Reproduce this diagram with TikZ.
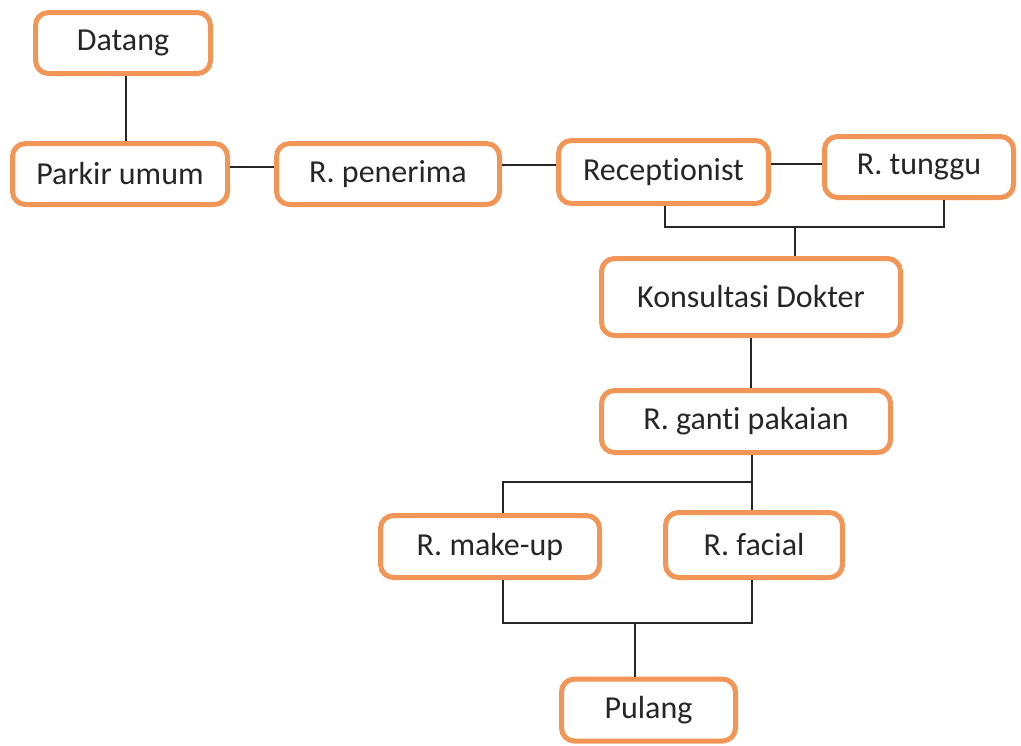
\documentclass[tikz,border=0pt]{standalone}
\usepackage{fontspec}
\setmainfont[Ligatures=NoCommon]{Carlito}
\begin{document}
\begin{tikzpicture}[x=1pt,y=-1pt,
  room/.style={draw=boxorange, line width=5pt, rounded corners=13pt, fill=white,
    inner sep=0pt, text=black!85, font=\fontsize{32}{37}\selectfont},
  link/.style={draw=black!85, line width=2.6pt}]
\definecolor{boxorange}{RGB}{242,150,88}
\useasboundingbox (0,0) rectangle (1021,745);
% rooms
\node[room, minimum width=175pt, minimum height=61pt] (datang) at (123,43) {Datang};
\node[room, minimum width=215pt, minimum height=61pt] (parkir) at (120,174) {Parkir umum};
\node[room, minimum width=223pt, minimum height=61pt] (penerima) at (388,174) {R. penerima};
\node[room, minimum width=210pt, minimum height=63pt] (recep) at (663.5,172) {Receptionist};
\node[room, minimum width=189pt, minimum height=61pt] (tunggu) at (919,167) {R. tunggu};
\node[room, minimum width=299pt, minimum height=77pt] (konsul) at (751,297) {Konsultasi Dokter};
\node[room, minimum width=289pt, minimum height=62pt] (ganti) at (746,421.5) {R. ganti pakaian};
\node[room, minimum width=219pt, minimum height=62pt] (makeup) at (490,546.5) {R. make-up};
\node[room, minimum width=177pt, minimum height=65pt] (facial) at (754,545) {R. facial};
\node[room, minimum width=174pt, minimum height=62pt] (pulang) at (648.5,710) {Pulang};
% junction points
\coordinate (j1) at (795,227);
\coordinate (j2) at (752,482);
\coordinate (j3) at (635,623);
% connectors
\draw[link] (datang.south -| 126,0) -- (parkir.north -| 126,0);
\draw[link] (parkir.east |- 0,167) -- (penerima.west |- 0,167);
\draw[link] (penerima.east |- 0,165) -- (recep.west |- 0,165);
\draw[link] (recep.east |- 0,164) -- (tunggu.west |- 0,164);
\draw[link] (recep.south -| 665,0) |- (j1) -| (tunggu.south -| 944,0);
\draw[link] (j1) -- (konsul.north -| j1);
\draw[link] (konsul.south -| 751,0) -- (ganti.north -| 751,0);
\draw[link] (ganti.south -| j2) -- (facial.north -| j2);
\draw[link] (j2) -| (makeup.north -| 503,0);
\draw[link] (makeup.south -| 503,0) |- (j3) -| (facial.south -| 752,0);
\draw[link] (j3) -- (pulang.north -| j3);
\end{tikzpicture}
\end{document}
